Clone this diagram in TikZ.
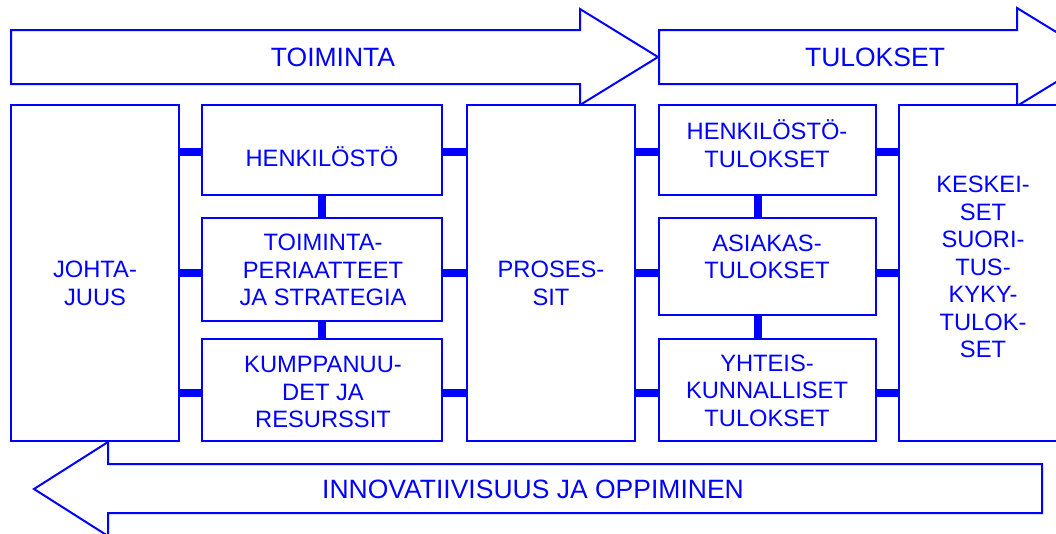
\documentclass[tikz,border=0pt]{standalone}
\usepackage{fontspec}
\setmainfont{Liberation Sans}
\definecolor{eblue}{RGB}{0,0,255}
\begin{document}
\begin{tikzpicture}[x=1pt,y=-1pt,
  box/.style={draw=eblue, line width=2pt, fill=white, inner sep=0pt, outer sep=0pt},
  bar/.style={draw=eblue, line width=8pt},
  bigarrow/.style={draw=eblue, line width=2pt, fill=white, line join=miter},
  txt/.style={text=eblue, font=\fontsize{23.7}{27.5}\selectfont, align=center, inner sep=0pt},
  bigtxt/.style={text=eblue, font=\fontsize{26.5}{30}\selectfont, inner sep=0pt}]
\useasboundingbox (0,0) rectangle (1056,533);
\clip (0,0) rectangle (1056,533);

% big arrows
\draw[bigarrow] (11,30) -- (580,30) -- (580,9) -- (658,57) -- (580,105) -- (580,84) -- (11,84) -- cycle;
\draw[bigarrow] (659,30) -- (1017,30) -- (1017,8) -- (1097,57) -- (1017,106) -- (1017,84) -- (659,84) -- cycle;
\draw[bigarrow] (1042,464) -- (108,464) -- (108,442) -- (34,489) -- (108,536) -- (108,513) -- (1042,513) -- cycle;
\node[bigtxt] (ttoi) at (333,57) {TOIMINTA};
\node[bigtxt] (ttul) at (875,57) {TULOKSET};
\node[bigtxt] (tinn) at (533,489) {INNOVATIIVISUUS JA OPPIMINEN};

% boxes
\node[box, minimum width=168, minimum height=336] (joh) at (95,273) {};
\node[box, minimum width=240, minimum height=90]  (hen) at (322,150) {};
\node[box, minimum width=240, minimum height=103] (toi) at (322,269.5) {};
\node[box, minimum width=240, minimum height=102] (kum) at (322,390) {};
\node[box, minimum width=168, minimum height=336] (pro) at (551,273) {};
\node[box, minimum width=217, minimum height=90]  (htu) at (767.5,150) {};
\node[box, minimum width=217, minimum height=97]  (asi) at (767.5,266.5) {};
\node[box, minimum width=217, minimum height=102] (yht) at (767.5,390) {};
\node[box, minimum width=168, minimum height=336] (kes) at (983,273) {};

% box texts
\node[txt] (tjoh) at (95,283.5) {JOHTA-\\JUUS};
\node[txt] (then) at (322,157) {HENKILÖSTÖ};
\node[txt] (ttoi2) at (323,270) {TOIMINTA-\\PERIAATTEET\\JA STRATEGIA};
\node[txt] (tkum) at (323,392) {KUMPPANUU-\\DET JA\\RESURSSIT};
\node[txt] (tpro) at (551,283.5) {PROSES-\\SIT};
\node[txt] (thtu) at (767,143.5) {HENKILÖSTÖ-\\TULOKSET};
\node[txt] (tasi) at (767,257) {ASIAKAS-\\TULOKSET};
\node[txt] (tyht) at (767,390.5) {YHTEIS-\\KUNNALLISET\\TULOKSET};
\node[txt] (tkes) at (983,267) {KESKEI-\\SET\\SUORI-\\TUS-\\KYKY-\\TULOK-\\SET};

% connectors, left part
\draw[bar] ([yshift=-2pt]hen.west) -- ([yshift=-2pt]hen.west -| joh.east);
\draw[bar] ([yshift=-3.5pt]toi.west) -- ([yshift=-3.5pt]toi.west -| joh.east);
\draw[bar] ([yshift=-3pt]kum.west) -- ([yshift=-3pt]kum.west -| joh.east);
\draw[bar] ([yshift=-2pt]hen.east) -- ([yshift=-2pt]hen.east -| pro.west);
\draw[bar] ([yshift=-3.5pt]toi.east) -- ([yshift=-3.5pt]toi.east -| pro.west);
\draw[bar] ([yshift=-3pt]kum.east) -- ([yshift=-3pt]kum.east -| pro.west);
\draw[bar] (hen.south) -- (toi.north);
\draw[bar] (toi.south) -- (kum.north);

% connectors, right part
\draw[bar] ([yshift=-2pt]htu.west) -- ([yshift=-2pt]htu.west -| pro.east);
\draw[bar] ([yshift=-6.5pt]asi.west) -- ([yshift=-6.5pt]asi.west -| pro.east);
\draw[bar] ([yshift=-3pt]yht.west) -- ([yshift=-3pt]yht.west -| pro.east);
\draw[bar] ([yshift=-2pt]htu.east) -- ([yshift=-2pt]htu.east -| kes.west);
\draw[bar] ([yshift=-6.5pt]asi.east) -- ([yshift=-6.5pt]asi.east -| kes.west);
\draw[bar] ([yshift=-3pt]yht.east) -- ([yshift=-3pt]yht.east -| kes.west);
\draw[bar] ([xshift=-10pt]htu.south) -- ([xshift=-10pt]asi.north);
\draw[bar] ([xshift=-10pt]asi.south) -- ([xshift=-10pt]yht.north);
\end{tikzpicture}
\end{document}
